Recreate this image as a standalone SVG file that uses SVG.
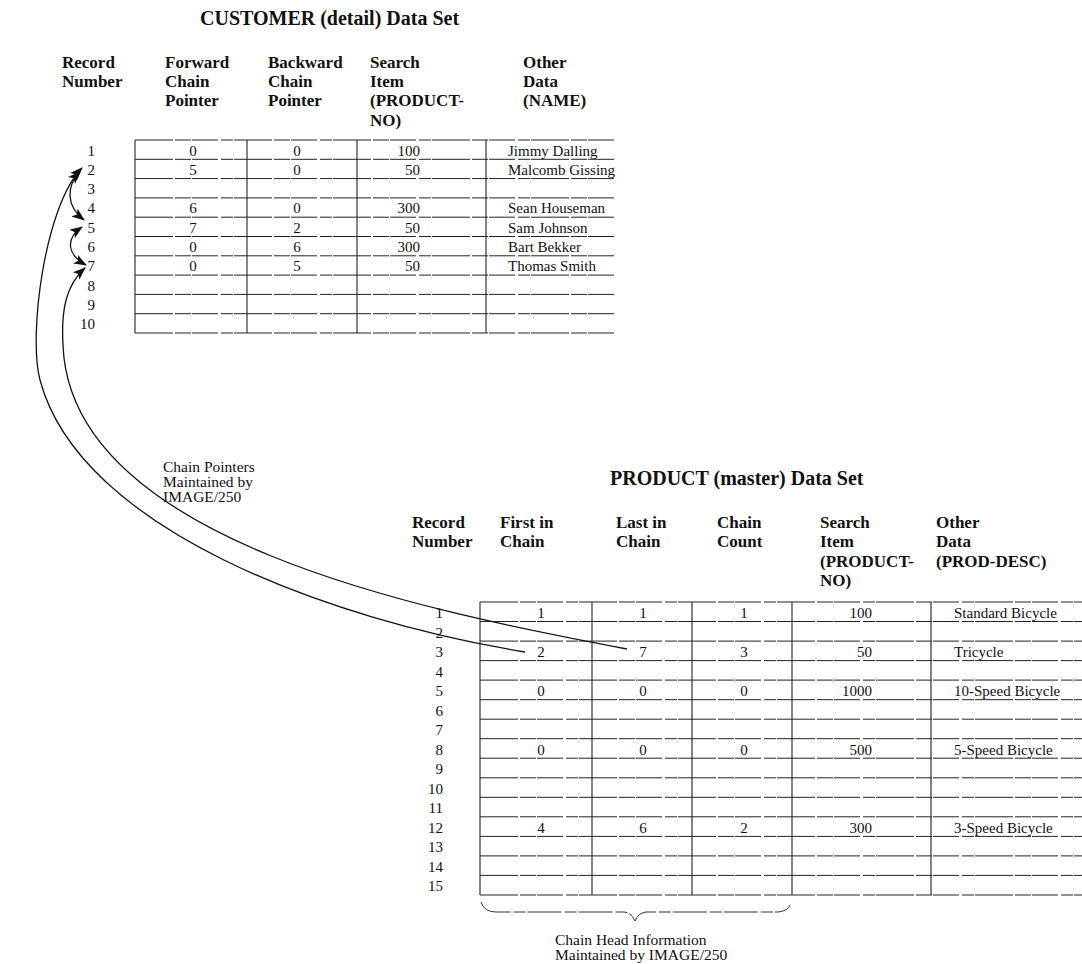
<svg xmlns="http://www.w3.org/2000/svg" width="1082" height="964" viewBox="0 0 1082 964">
<style>
.title{font-family:"Liberation Serif",serif;font-weight:bold;font-size:20px;fill:#111}
.hdr{font-family:"Liberation Serif",serif;font-weight:bold;font-size:17px;fill:#111}
.cell{font-family:"Liberation Serif",serif;font-size:15px;fill:#111}
.num{font-family:"Liberation Serif",serif;font-size:15px;fill:#111;text-anchor:middle}
.rnum{font-family:"Liberation Serif",serif;font-size:15px;fill:#111;text-anchor:end}
.rt{font-family:"Liberation Serif",serif;font-size:15px;fill:#111;text-anchor:end}
.note{font-family:"Liberation Serif",serif;font-size:15.5px;fill:#111}
.h{stroke:#222;stroke-width:1;stroke-dasharray:38 2 16 1 26 3 12 1}
.v{stroke:#222;stroke-width:1.1}
.curve{fill:none;stroke:#111;stroke-width:1.3}
.brace{fill:none;stroke:#333;stroke-width:1;stroke-dasharray:34 3 12 2}
</style>
<defs>
<marker id="ah" markerUnits="userSpaceOnUse" markerWidth="14" markerHeight="10" refX="12" refY="5" orient="auto-start-reverse" viewBox="0 0 14 10">
<path d="M0,0 L13,5 L0,10 L3,5 z" fill="#111"/>
</marker>
</defs>
<rect width="1082" height="964" fill="#fff"/>

<g id="customer-title"><text class="title" x="200" y="25">CUSTOMER (detail) Data Set</text></g>

<g id="customer-headers">
<text class="hdr" x="62" y="68">Record</text>
<text class="hdr" x="62" y="87">Number</text>
<text class="hdr" x="165" y="68">Forward</text>
<text class="hdr" x="165" y="87">Chain</text>
<text class="hdr" x="165" y="106">Pointer</text>
<text class="hdr" x="268" y="68">Backward</text>
<text class="hdr" x="268" y="87">Chain</text>
<text class="hdr" x="268" y="106">Pointer</text>
<text class="hdr" x="370" y="68">Search</text>
<text class="hdr" x="370" y="87">Item</text>
<text class="hdr" x="370" y="106">(PRODUCT-</text>
<text class="hdr" x="370" y="126">NO)</text>
<text class="hdr" x="523" y="68">Other</text>
<text class="hdr" x="523" y="87">Data</text>
<text class="hdr" x="523" y="106">(NAME)</text>
</g>

<g id="customer-table">
<g>
<line class="h" x1="135" y1="140" x2="615" y2="140"/>
<line class="h" x1="135" y1="159.3" x2="615" y2="159.3"/>
<line class="h" x1="135" y1="178.6" x2="615" y2="178.6"/>
<line class="h" x1="135" y1="197.9" x2="615" y2="197.9"/>
<line class="h" x1="135" y1="217.2" x2="615" y2="217.2"/>
<line class="h" x1="135" y1="236.5" x2="615" y2="236.5"/>
<line class="h" x1="135" y1="255.8" x2="615" y2="255.8"/>
<line class="h" x1="135" y1="275.1" x2="615" y2="275.1"/>
<line class="h" x1="135" y1="294.4" x2="615" y2="294.4"/>
<line class="h" x1="135" y1="313.7" x2="615" y2="313.7"/>
<line class="h" x1="135" y1="333" x2="615" y2="333"/>
<line class="v" x1="135" y1="140" x2="135" y2="333"/>
<line class="v" x1="247" y1="140" x2="247" y2="333"/>
<line class="v" x1="357" y1="140" x2="357" y2="333"/>
<line class="v" x1="486" y1="140" x2="486" y2="333"/>
</g>
<g>
<text class="rnum" x="95" y="155.5">1</text>
<text class="rnum" x="95" y="174.8">2</text>
<text class="rnum" x="95" y="194.1">3</text>
<text class="rnum" x="95" y="213.4">4</text>
<text class="rnum" x="95" y="232.7">5</text>
<text class="rnum" x="95" y="252">6</text>
<text class="rnum" x="95" y="271.3">7</text>
<text class="rnum" x="95" y="290.6">8</text>
<text class="rnum" x="95" y="309.9">9</text>
<text class="rnum" x="95" y="329.2">10</text>
</g>
<g>
<text class="num" x="193" y="155.5">0</text><text class="num" x="297" y="155.5">0</text><text class="rt" x="420" y="155.5">100</text><text class="cell" x="508" y="155.5">Jimmy Dalling</text>
<text class="num" x="193" y="174.8">5</text><text class="num" x="297" y="174.8">0</text><text class="rt" x="420" y="174.8">50</text><text class="cell" x="508" y="174.8">Malcomb Gissing</text>
<text class="num" x="193" y="213.4">6</text><text class="num" x="297" y="213.4">0</text><text class="rt" x="420" y="213.4">300</text><text class="cell" x="508" y="213.4">Sean Houseman</text>
<text class="num" x="193" y="232.7">7</text><text class="num" x="297" y="232.7">2</text><text class="rt" x="420" y="232.7">50</text><text class="cell" x="508" y="232.7">Sam Johnson</text>
<text class="num" x="193" y="252">0</text><text class="num" x="297" y="252">6</text><text class="rt" x="420" y="252">300</text><text class="cell" x="508" y="252">Bart Bekker</text>
<text class="num" x="193" y="271.3">0</text><text class="num" x="297" y="271.3">5</text><text class="rt" x="420" y="271.3">50</text><text class="cell" x="508" y="271.3">Thomas Smith</text>
</g>
</g>

<g id="chain-pointers-label">
<text class="note" x="163" y="472">Chain Pointers</text>
<text class="note" x="163" y="487">Maintained by</text>
<text class="note" x="163" y="502">IMAGE/250</text>
</g>

<g id="product-title"><text class="title" x="610" y="485">PRODUCT (master) Data Set</text></g>

<g id="product-headers">
<text class="hdr" x="412" y="528">Record</text>
<text class="hdr" x="412" y="547">Number</text>
<text class="hdr" x="500" y="528">First in</text>
<text class="hdr" x="500" y="547">Chain</text>
<text class="hdr" x="616" y="528">Last in</text>
<text class="hdr" x="616" y="547">Chain</text>
<text class="hdr" x="717" y="528">Chain</text>
<text class="hdr" x="717" y="547">Count</text>
<text class="hdr" x="820" y="528">Search</text>
<text class="hdr" x="820" y="547">Item</text>
<text class="hdr" x="820" y="567">(PRODUCT-</text>
<text class="hdr" x="820" y="586">NO)</text>
<text class="hdr" x="936" y="528">Other</text>
<text class="hdr" x="936" y="547">Data</text>
<text class="hdr" x="936" y="567">(PROD-DESC)</text>
</g>

<g id="product-table">
<g>
<line class="h" x1="480" y1="602" x2="1082" y2="602"/>
<line class="h" x1="480" y1="621.5" x2="1082" y2="621.5"/>
<line class="h" x1="480" y1="641.1" x2="1082" y2="641.1"/>
<line class="h" x1="480" y1="660.6" x2="1082" y2="660.6"/>
<line class="h" x1="480" y1="680.1" x2="1082" y2="680.1"/>
<line class="h" x1="480" y1="699.7" x2="1082" y2="699.7"/>
<line class="h" x1="480" y1="719.2" x2="1082" y2="719.2"/>
<line class="h" x1="480" y1="738.7" x2="1082" y2="738.7"/>
<line class="h" x1="480" y1="758.2" x2="1082" y2="758.2"/>
<line class="h" x1="480" y1="777.8" x2="1082" y2="777.8"/>
<line class="h" x1="480" y1="797.3" x2="1082" y2="797.3"/>
<line class="h" x1="480" y1="816.8" x2="1082" y2="816.8"/>
<line class="h" x1="480" y1="836.4" x2="1082" y2="836.4"/>
<line class="h" x1="480" y1="855.9" x2="1082" y2="855.9"/>
<line class="h" x1="480" y1="875.4" x2="1082" y2="875.4"/>
<line class="h" x1="480" y1="895" x2="1082" y2="895"/>
<line class="v" x1="480" y1="602" x2="480" y2="895"/>
<line class="v" x1="592" y1="602" x2="592" y2="895"/>
<line class="v" x1="692" y1="602" x2="692" y2="895"/>
<line class="v" x1="792" y1="602" x2="792" y2="895"/>
<line class="v" x1="931" y1="602" x2="931" y2="895"/>
</g>
<g>
<text class="rnum" x="443" y="618">1</text>
<text class="rnum" x="443" y="637.5">2</text>
<text class="rnum" x="443" y="657.1">3</text>
<text class="rnum" x="443" y="676.6">4</text>
<text class="rnum" x="443" y="696.1">5</text>
<text class="rnum" x="443" y="715.7">6</text>
<text class="rnum" x="443" y="735.2">7</text>
<text class="rnum" x="443" y="754.7">8</text>
<text class="rnum" x="443" y="774.2">9</text>
<text class="rnum" x="443" y="793.8">10</text>
<text class="rnum" x="443" y="813.3">11</text>
<text class="rnum" x="443" y="832.8">12</text>
<text class="rnum" x="443" y="852.4">13</text>
<text class="rnum" x="443" y="871.9">14</text>
<text class="rnum" x="443" y="891.4">15</text>
</g>
<g>
<text class="num" x="541" y="618">1</text><text class="num" x="643" y="618">1</text><text class="num" x="744" y="618">1</text><text class="rt" x="872" y="618">100</text><text class="cell" x="954" y="618">Standard Bicycle</text>
<text class="num" x="541" y="657.1">2</text><text class="num" x="643" y="657.1">7</text><text class="num" x="744" y="657.1">3</text><text class="rt" x="872" y="657.1">50</text><text class="cell" x="954" y="657.1">Tricycle</text>
<text class="num" x="541" y="696.1">0</text><text class="num" x="643" y="696.1">0</text><text class="num" x="744" y="696.1">0</text><text class="rt" x="872" y="696.1">1000</text><text class="cell" x="954" y="696.1">10-Speed Bicycle</text>
<text class="num" x="541" y="754.7">0</text><text class="num" x="643" y="754.7">0</text><text class="num" x="744" y="754.7">0</text><text class="rt" x="872" y="754.7">500</text><text class="cell" x="954" y="754.7">5-Speed Bicycle</text>
<text class="num" x="541" y="832.8">4</text><text class="num" x="643" y="832.8">6</text><text class="num" x="744" y="832.8">2</text><text class="rt" x="872" y="832.8">300</text><text class="cell" x="954" y="832.8">3-Speed Bicycle</text>
</g>
</g>

<g id="chain-head-label">
<path class="brace" d="M481,902 Q484,912 496,912 L624,912 Q632,913 635,921 Q638,913 646,912 L778,912 Q788,911 790,905"/>
<text class="note" x="555" y="945">Chain Head Information</text>
<text class="note" x="555" y="960">Maintained by IMAGE/250</text>
</g>

<g id="connectors">
<path class="curve" marker-end="url(#ah)" d="M525,652 C330,620 80,530 40,380 C28,335 45,205 82,168"/>
<path class="curve" marker-end="url(#ah)" d="M627,649 C420,610 70,540 63,345 C61,310 66,285 85,268"/>
<path class="curve" marker-start="url(#ah)" marker-end="url(#ah)" d="M80,172 C66,186 66,206 84,220"/>
<path class="curve" marker-start="url(#ah)" marker-end="url(#ah)" d="M82,227 C66,238 66,254 86,265"/>
</g>
</svg>
